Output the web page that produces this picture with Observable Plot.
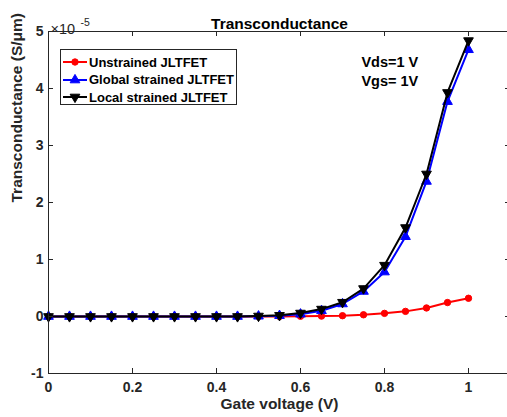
<!DOCTYPE html>
<html>
<head>
<meta charset="utf-8">
<script src="https://cdn.jsdelivr.net/npm/d3@7"></script>
<script src="https://cdn.jsdelivr.net/npm/@observablehq/plot@0.6"></script>
<style>
  html, body { margin: 0; padding: 0; background: #fff; overflow: hidden; }
  #wrap { position: relative; width: 507px; height: 417px; overflow: hidden; font-family: "Liberation Sans", Arial, sans-serif; }
  #wrap svg { overflow: hidden; }
  .legend { position: absolute; left: 60px; top: 49px; width: 177px; height: 56px; border: 1px solid #262626; background: #fff; box-sizing: border-box; }
  .row { position: absolute; left: 0; height: 18px; display: flex; align-items: center; }
  .row span { font-weight: bold; font-size: 13px; color: #000; margin-left: 1px; white-space: nowrap; }
</style>
</head>
<body>
<div id="wrap"></div>
<script>
// ---- data (Transconductance in units of 1e-5 S/µm) ----
const gateVoltage = [0, 0.05, 0.1, 0.15, 0.2, 0.25, 0.3, 0.35, 0.4, 0.45, 0.5, 0.55, 0.6, 0.65, 0.7, 0.75, 0.8, 0.85, 0.9, 0.95, 1.0];
const unstrained   = [0, 0, 0, 0, 0, 0, 0, 0, 0, 0, 0, 0, 0.004, 0.007, 0.014, 0.03, 0.055, 0.09, 0.15, 0.245, 0.32];
const globalStrain = [0, 0, 0, 0, 0, 0, 0, 0, 0, 0, 0.005, 0.015, 0.04, 0.1, 0.22, 0.44, 0.78, 1.40, 2.37, 3.77, 4.68];
const localStrain  = [0, 0, 0, 0, 0, 0, 0, 0, 0, 0, 0.008, 0.02, 0.06, 0.13, 0.25, 0.49, 0.90, 1.56, 2.50, 3.93, 4.84];
const seriesNames  = ["Unstrained JLTFET", "Global strained JLTFET", "Local strained JLTFET"];
const seriesColors = ["#ff0000", "#0000ff", "#000000"];
const xTicks = [0, 0.2, 0.4, 0.6, 0.8, 1];
const xTickLabels = ["0", "0.2", "0.4", "0.6", "0.8", "1"];
const yTicks = [-1, 0, 1, 2, 3, 4, 5];
const yTickLabels = ["-1", "0", "1", "2", "3", "4", "5"];
const xDomain = [0, 1.1];
const yDomain = [-1, 5];
const annotation = ["Vds=1 V", "Vgs= 1V"];

const W = 507, H = 417;
const mL = 48, mR = -3, mT = 31, mB = 44;
const tickPx = 5;
const pxPerX = (W - mL - mR) / (xDomain[1] - xDomain[0]);
const pxPerY = (H - mT - mB) / (yDomain[1] - yDomain[0]);
const tx = tickPx / pxPerX, ty = tickPx / pxPerY;

const mk = (ys) => gateVoltage.map((x, i) => ({x, y: ys[i]}));
const dU = mk(unstrained), dG = mk(globalStrain), dL = mk(localStrain);
const axisColor = "#262626";
const font = "Liberation Sans, Arial, sans-serif";

const chart = Plot.plot({
  width: W, height: H,
  marginLeft: mL, marginRight: mR, marginTop: mT, marginBottom: mB,
  style: {fontFamily: font, background: "#fff"},
  x: {domain: xDomain, axis: null},
  y: {domain: yDomain, axis: null},
  marks: [
    // series
    Plot.line(dU, {x: "x", y: "y", stroke: seriesColors[0], strokeWidth: 2}),
    Plot.dot(dU, {x: "x", y: "y", symbol: "circle", r: 3.2, fill: seriesColors[0], stroke: seriesColors[0], strokeWidth: 1}),
    Plot.line(dG, {x: "x", y: "y", stroke: seriesColors[1], strokeWidth: 2}),
    Plot.dot(dG, {x: "x", y: "y", symbol: "triangle", r: 3.6, fill: seriesColors[1], stroke: seriesColors[1], strokeWidth: 1}),
    Plot.line(dL, {x: "x", y: "y", stroke: seriesColors[2], strokeWidth: 2}),
    Plot.dot(dL, {x: "x", y: "y", symbol: "triangle", rotate: 180, r: 3.6, fill: seriesColors[2], stroke: seriesColors[2], strokeWidth: 1}),
    // frame
    Plot.ruleY([yDomain[0], yDomain[1]], {x1: xDomain[0], x2: xDomain[1], stroke: axisColor, strokeWidth: 1}),
    Plot.ruleX([xDomain[0], xDomain[1]], {y1: yDomain[0], y2: yDomain[1], stroke: axisColor, strokeWidth: 1}),
    // inward ticks
    Plot.ruleX(xTicks, {y1: yDomain[0], y2: yDomain[0] + ty, stroke: axisColor}),
    Plot.ruleX(xTicks, {y1: yDomain[1] - ty, y2: yDomain[1], stroke: axisColor}),
    Plot.ruleY(yTicks, {x1: xDomain[0], x2: xDomain[0] + tx, stroke: axisColor}),
    Plot.ruleY(yTicks, {x1: xDomain[1] - tx, x2: xDomain[1], stroke: axisColor}),
    // tick labels
    Plot.text(xTicks, {x: d => d, y: yDomain[0], dy: 14.5, text: (d, i) => xTickLabels[i], fontSize: 14, fontWeight: "bold", fill: axisColor}),
    Plot.text(yTicks, {x: xDomain[0], y: d => d, dx: -5, textAnchor: "end", text: (d, i) => yTickLabels[i], fontSize: 14, fontWeight: "bold", fill: axisColor}),
    // exponent
    Plot.text(["×10"], {frameAnchor: "top-left", dx: 2, dy: -8, textAnchor: "start", fontSize: 14.5, fill: axisColor}),
    Plot.text(["-5"], {frameAnchor: "top-left", dx: 32, dy: -13, textAnchor: "start", fontSize: 10.5, fill: axisColor}),
    // title and axis labels
    Plot.text(["Transconductance"], {frameAnchor: "top", dy: -14, fontSize: 15.5, fontWeight: "bold", fill: "#000"}),
    Plot.text(["Gate voltage (V)"], {frameAnchor: "bottom", dy: 35.5, fontSize: 15.5, fontWeight: "bold", fill: axisColor}),
    Plot.text(["Transconductance (S/μm)"], {frameAnchor: "left", dx: -31, rotate: -90, fontSize: 15.5, fontWeight: "bold", fill: axisColor}),
    // annotation
    Plot.text([annotation[0]], {x: 0.745, y: 4.46, textAnchor: "start", fontSize: 14.5, fontWeight: "bold", fill: "#000"}),
    Plot.text([annotation[1]], {x: 0.745, y: 4.12, textAnchor: "start", fontSize: 14.5, fontWeight: "bold", fill: "#000"})
  ]
});

const wrap = document.getElementById("wrap");
wrap.appendChild(chart);

// legend
const legend = document.createElement("div");
legend.className = "legend";
const symbols = [
  (c) => `<circle cx="12" cy="9" r="3.2" fill="${c}" stroke="${c}"/>`,
  (c) => { const r = 3.6; return `<path transform="translate(12,9)" d="${d3.symbol(d3.symbolTriangle, Math.PI * r * r)()}" fill="${c}" stroke="${c}"/>`; },
  (c) => { const r = 3.6; return `<path transform="translate(12,9) rotate(180)" d="${d3.symbol(d3.symbolTriangle, Math.PI * r * r)()}" fill="${c}" stroke="${c}"/>`; }
];
const rowTops = [3, 20.5, 38];
seriesNames.forEach((name, i) => {
  const row = document.createElement("div");
  row.className = "row";
  row.style.top = rowTops[i] + "px";
  row.style.left = "2px";
  row.innerHTML = `<svg width="25" height="18" style="overflow:visible"><line x1="0" y1="9" x2="24" y2="9" stroke="${seriesColors[i]}" stroke-width="2"/>${symbols[i](seriesColors[i])}</svg><span>${name}</span>`;
  legend.appendChild(row);
});
wrap.appendChild(legend);
</script>
</body>
</html>
